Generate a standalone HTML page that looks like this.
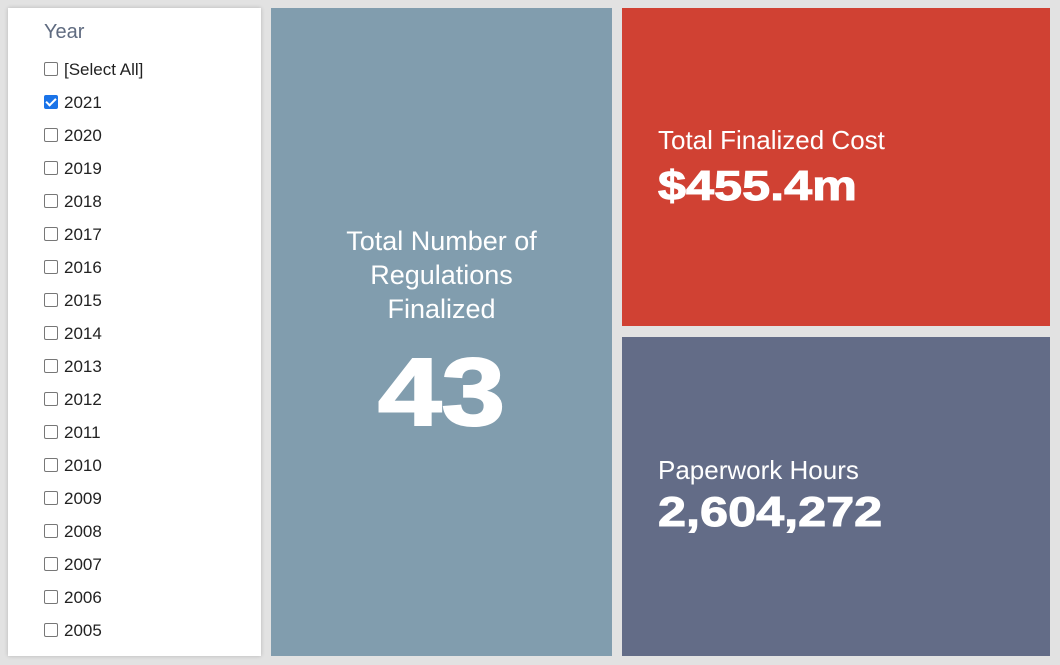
<!DOCTYPE html>
<html><head><style>
body{margin:0;width:1060px;height:665px;background:#e2e2e2;position:relative;overflow:hidden;font-family:"Liberation Sans",Arial,sans-serif}
.p{position:absolute}
#l{left:8px;top:8px;width:253px;height:648px;background:#fff;box-shadow:0 0 4px rgba(0,0,0,.2)}
#m{left:271px;top:8px;width:341px;height:648px;background:#819dae;color:#fff;text-align:center}
#r{left:622px;top:8px;width:428px;height:318px;background:#d04133;color:#fff}
#b{left:622px;top:337px;width:428px;height:319px;background:#636c87;color:#fff}
.row{position:absolute;left:36px;font-size:17px;color:#222;height:20px;line-height:20px}
.cb{display:inline-block;width:12px;height:12px;border:1px solid #777;border-radius:2px;vertical-align:-1px;margin-right:6px;background:#fff}
.ck{background:#1a73e8;border-color:#1a73e8;position:relative}
.ck:after{content:"";position:absolute;left:3px;top:0px;width:4px;height:8px;border:solid #fff;border-width:0 2px 2px 0;transform:rotate(45deg)}
.lab{font-size:26px;white-space:nowrap}
.big{font-weight:bold;font-size:42px;transform:scaleX(1.2);transform-origin:0 0;-webkit-text-stroke:1px #fff;white-space:nowrap}
</style></head><body>
<div class="p" id="l">
<div style="position:absolute;left:36px;top:13px;font-size:20px;color:#5f6b80">Year</div>
<div class="row" style="top:52px"><span class="cb"></span>[Select All]</div>
<div class="row" style="top:85px"><span class="cb ck"></span>2021</div>
<div class="row" style="top:118px"><span class="cb"></span>2020</div>
<div class="row" style="top:151px"><span class="cb"></span>2019</div>
<div class="row" style="top:184px"><span class="cb"></span>2018</div>
<div class="row" style="top:217px"><span class="cb"></span>2017</div>
<div class="row" style="top:250px"><span class="cb"></span>2016</div>
<div class="row" style="top:283px"><span class="cb"></span>2015</div>
<div class="row" style="top:316px"><span class="cb"></span>2014</div>
<div class="row" style="top:349px"><span class="cb"></span>2013</div>
<div class="row" style="top:382px"><span class="cb"></span>2012</div>
<div class="row" style="top:415px"><span class="cb"></span>2011</div>
<div class="row" style="top:448px"><span class="cb"></span>2010</div>
<div class="row" style="top:481px"><span class="cb"></span>2009</div>
<div class="row" style="top:514px"><span class="cb"></span>2008</div>
<div class="row" style="top:547px"><span class="cb"></span>2007</div>
<div class="row" style="top:580px"><span class="cb"></span>2006</div>
<div class="row" style="top:613px"><span class="cb"></span>2005</div>
</div>
<div class="p" id="m">
<div style="position:absolute;left:0;right:0;top:216px;font-size:27px;line-height:34px">Total Number of<br>Regulations<br>Finalized</div>
<div style="position:absolute;left:0;right:0;top:330px;font-size:96px;font-weight:bold;line-height:110px;transform:scaleX(1.19);-webkit-text-stroke:2px #fff">43</div>
</div>
<div class="p" id="r">
<div style="position:absolute;left:36px;top:117px" class="lab">Total Finalized Cost</div>
<div style="position:absolute;left:36px;top:154px" class="big">$455.4m</div>
</div>
<div class="p" id="b">
<div style="position:absolute;left:36px;top:118px" class="lab">Paperwork Hours</div>
<div style="position:absolute;left:36px;top:151px" class="big">2,604,272</div>
</div>
</body></html>
